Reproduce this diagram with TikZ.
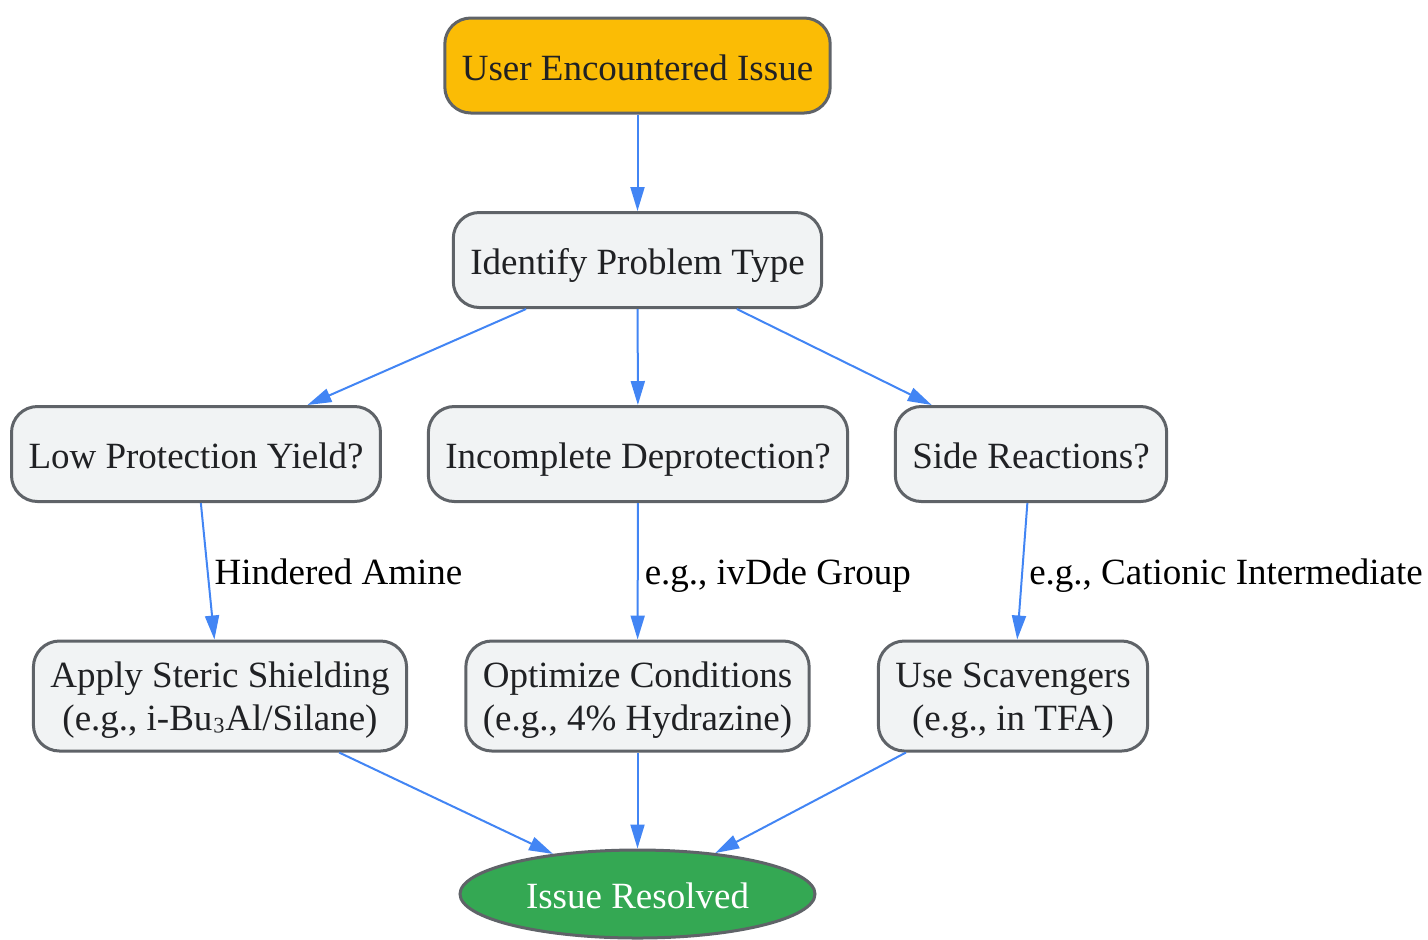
\documentclass[tikz,border=0pt]{standalone}
\usepackage{fontspec}
\setmainfont{Liberation Serif}
\usetikzlibrary{shapes.geometric, arrows.meta}
\definecolor{boxfill}{HTML}{F1F3F4}
\definecolor{boxline}{HTML}{5F6368}
\definecolor{boxtext}{HTML}{202124}
\definecolor{edgeblue}{HTML}{4285F4}
\definecolor{startyellow}{HTML}{FBBC05}
\definecolor{endgreen}{HTML}{34A853}
\newcommand{\tallstrut}{\rule{0pt}{16.7pt}}

\tikzset{
  box/.style={draw=boxline, line width=1.5pt, fill=boxfill, text=boxtext,
    rounded corners=13pt, minimum height=47.5pt, inner xsep=8.5pt,
    text height=14.5pt, text depth=0pt,
    font=\fontsize{18.5}{21.5}\selectfont},
  tallbox/.style={draw=boxline, line width=1.5pt, fill=boxfill, text=boxtext,
    rounded corners=13pt, minimum height=55pt, inner xsep=8.5pt, align=center,
    font=\fontsize{18.5}{21.5}\selectfont},
  flow/.style={draw=edgeblue, line width=1pt, -{Triangle[length=12pt,width=7pt]}},
  tag/.style={right, inner sep=3pt, text=black, text height=13.5pt, text depth=0pt,
    font=\fontsize{18.5}{21.5}\selectfont},
}

\begin{document}
\begin{tikzpicture}[x=0.5pt, y=-0.5pt]
  \useasboundingbox (0,0) rectangle (1428,939);

  % start and problem type
  \node[box, fill=startyellow] (issue) at (637.5,65.5) {User Encountered Issue};
  \node[box] (identify) at (637.5,260) {Identify Problem Type};

  % the three problems
  \node[box] (lowyield) at (196,454) {Low Protection Yield?};
  \node[box] (incomplete) at (638,454) {Incomplete Deprotection?};
  \node[box] (side) at (1031,454) {Side Reactions?};

  % the three remedies
  \node[tallbox] (shield) at (220,696) {\tallstrut Apply Steric Shielding\\(e.g., i-Bu\raisebox{2.5pt}{₃}Al/Silane)};
  \node[tallbox] (optimize) at (637.5,696) {\tallstrut Optimize Conditions\\(e.g., 4\% Hydrazine)};
  \node[tallbox] (scavenge) at (1013,696) {\tallstrut Use Scavengers\\(e.g., in TFA)};

  % end
  \node[ellipse, draw=boxline, line width=1.5pt, fill=endgreen, text=white,
    minimum width=177.5pt, minimum height=44pt, inner sep=0pt,
    text height=14.5pt, text depth=0pt,
    font=\fontsize{18.5}{21.5}\selectfont] (resolved) at (637.5,894) {Issue Resolved};

  \draw[flow] (issue) -- (identify);
  \draw[flow] (identify) -- (lowyield);
  \draw[flow] (identify) -- (incomplete);
  \draw[flow] (identify) -- (side);
  \draw[flow] (lowyield) -- (shield) node[tag, midway] {Hindered Amine};
  \draw[flow] (incomplete) -- (optimize) node[tag, midway] {e.g., ivDde Group};
  \draw[flow] (side) -- (scavenge) node[tag, midway] {e.g., Cationic Intermediate};
  \draw[flow] (shield) -- (resolved);
  \draw[flow] (optimize) -- (resolved);
  \draw[flow] (scavenge) -- (resolved);
\end{tikzpicture}
\end{document}
